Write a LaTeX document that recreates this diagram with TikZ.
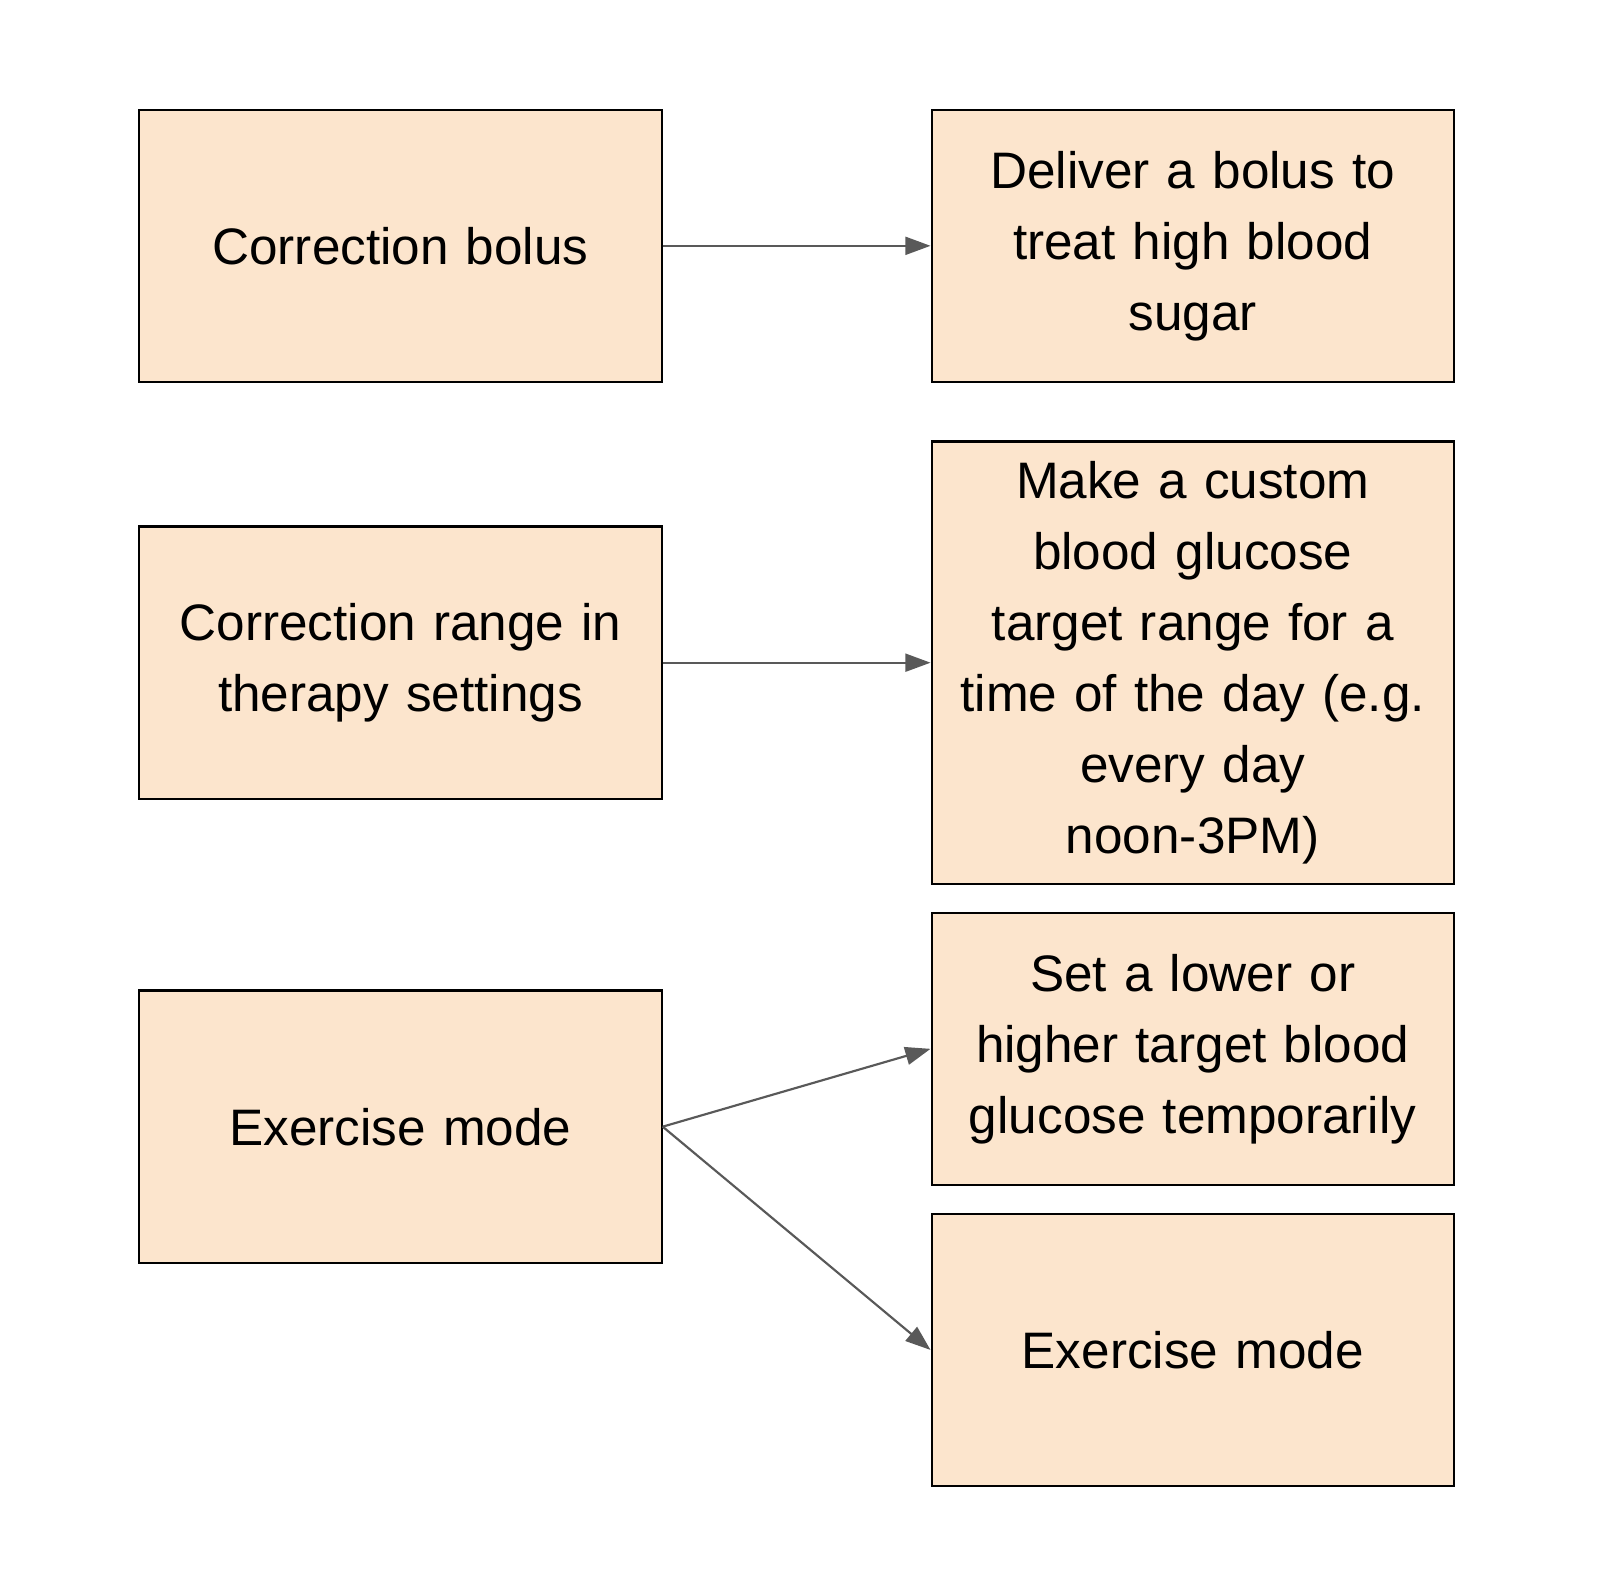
\documentclass[tikz,border=0pt]{standalone}
\usepackage{fontspec}
\setmainfont{Liberation Sans}
\usetikzlibrary{arrows.meta}
\definecolor{boxfill}{HTML}{FCE5CD}
\definecolor{arrowgray}{HTML}{595959}
\begin{document}
\begin{tikzpicture}[x=0.02cm,y=-0.02cm,
  box/.style={draw=black,line width=1.2pt,fill=boxfill,minimum width=10.2cm,minimum height=5.32cm,
    text width=9.8cm,align=center,font=\fontsize{28.5}{39.5}\selectfont,inner sep=0pt},
  conn/.style={draw=arrowgray,line width=1.2pt,-{Triangle[length=14pt,width=10pt]}}]
\useasboundingbox (0,0) rectangle (1568,1539);
\node[box] (L1) at (391,240) {Correction bolus};
\node[box] (L2) at (391,647) {Correction range in\\therapy settings};
\node[box] (L3) at (391,1100) {Exercise mode};
\node[box] (R1) at (1164.5,240) {Deliver a bolus to\\treat high blood\\sugar};
\node[box,minimum height=8.64cm] (R2) at (1164.5,647) {Make a custom\\blood glucose\\target range for a\\time of the day (e.g.\\every day\\noon-3PM)};
\node[box] (R3) at (1164.5,1024) {Set a lower or\\higher target blood\\glucose temporarily};
\node[box] (R4) at (1164.5,1318) {Exercise mode};
\draw[conn] (L1.east) -- (R1.west);
\draw[conn] (L2.east) -- (R2.west);
\draw[conn] (L3.east) -- (R3.west);
\draw[conn] (L3.east) -- (R4.west);
\end{tikzpicture}
\end{document}
